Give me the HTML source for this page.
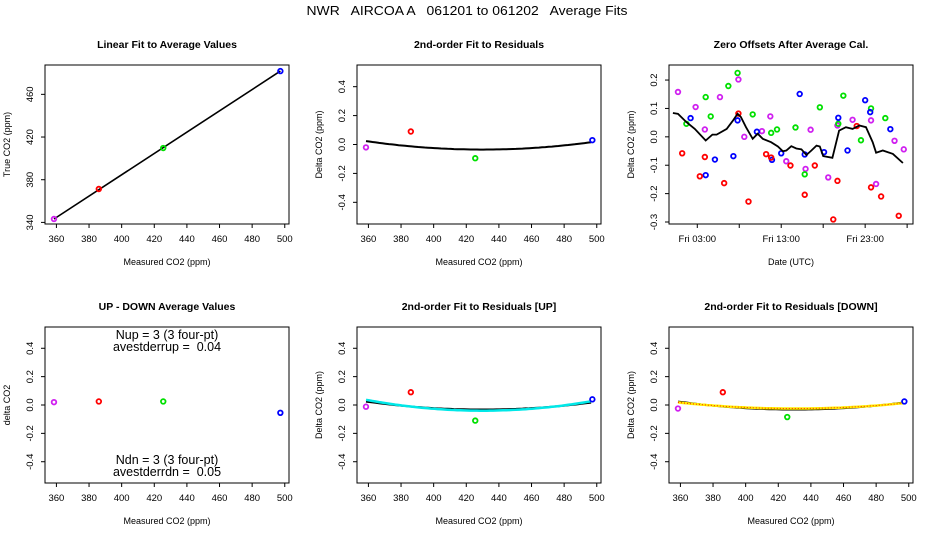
<!DOCTYPE html>
<html><head><meta charset="utf-8"><style>
body{margin:0;background:#fff}
svg{display:block;font-family:"Liberation Sans",Arial,sans-serif}
svg text{white-space:pre}
</style></head><body>
<svg id="chart" width="936" height="540" viewBox="0 0 936 540">
<rect width="936" height="540" fill="#fff"/>
<text x="467" y="15" font-size="13" text-anchor="middle" textLength="321" lengthAdjust="spacingAndGlyphs" style="white-space:pre">NWR   AIRCOA A   061201 to 061202   Average Fits</text>
</svg>
<script>
// ---- data ----
const stdNames = ['S1','S2','S3','S4'];
const stdColors = ['#d020f0','#ff0000','#00e000','#0000ff'];
const measured = [358.5, 386, 425.5, 497.3];
const trueVals = [343.2, 371.3, 409.7, 481.8];
const residAvg = [-0.02, 0.09, -0.095, 0.03];
const upDown = [0.02, 0.025, 0.025, -0.055];
const residUp = [-0.012, 0.09, -0.11, 0.04];
const residDown = [-0.025, 0.09, -0.085, 0.025];
// quadratic fits: [vertexX, vertexY, curvature]
const fitAvg = [430, -0.035, 1.15e-5];
const fitUpBlack = [430, -0.032, 1.1e-5];
const fitUpCyan = [430, -0.04, 1.5e-5];
const fitDownBlack = [430, -0.032, 1.1e-5];
const fitDownColor = [430, -0.025, 0.85e-5];
const xTicksCO2 = [360,380,400,420,440,460,480,500];
const yTicksTrue = [340,380,420,460];
const yTicksDelta = [-0.4,-0.2,0.0,0.2,0.4];
const yTicksZero = [-0.3,-0.2,-0.1,0.0,0.1,0.2];
// zero offsets: hours since Fri 00:00
const zeroPurpleH = [0.7,2.8,3.9,5.7,7.9,8.6,10.7,11.7,13.6,15.9,16.5,18.6,19.7,21.5,23.7,24.3,26.5,27.6];
const zeroPurpleV = [0.158,0.105,0.026,0.140,0.202,0.0,0.02,0.072,-0.086,-0.113,0.025,-0.143,0.04,0.06,0.058,-0.166,-0.014,-0.044];
const zeroGreenH = [1.7,4.0,4.6,6.7,7.8,9.6,11.8,12.5,14.7,15.8,17.6,19.8,20.4,22.5,23.7,25.4];
const zeroGreenV = [0.046,0.14,0.072,0.179,0.225,0.079,0.014,0.026,0.033,-0.132,0.104,0.046,0.145,-0.012,0.1,0.066];
const zeroBlueH = [2.2,4.0,5.1,7.3,7.8,10.1,11.9,13.0,15.2,15.8,18.1,19.8,20.9,23.0,23.6,26.0];
const zeroBlueV = [0.066,-0.135,-0.08,-0.068,0.058,0.018,-0.081,-0.058,0.151,-0.062,-0.054,0.067,-0.048,0.129,0.087,0.027];
const zeroRedH = [1.2,3.3,3.9,6.2,7.9,9.1,11.2,11.8,14.1,15.8,17.0,19.2,19.7,22.0,23.7,24.9,27.0];
const zeroRedV = [-0.058,-0.139,-0.071,-0.163,0.082,-0.228,-0.061,-0.073,-0.101,-0.204,-0.101,-0.291,-0.155,0.038,-0.178,-0.210,-0.278];
const lineH = [0.1,0.7,1.7,2.7,4.0,4.8,5.3,6.5,7.2,7.8,8.2,8.8,9.6,10.2,10.8,11.8,12.6,13.2,13.6,14.2,14.8,15.4,16.0,16.6,17.2,17.6,18.0,19.1,19.9,20.7,21.5,22.3,23.1,23.9,24.3,25.1,26.3,27.5];
const lineV = [0.084,0.081,0.052,0.028,-0.013,0.008,0.008,0.028,0.055,0.081,0.07,0.034,-0.007,0.011,-0.007,-0.019,-0.034,-0.051,-0.048,-0.033,-0.041,-0.044,-0.064,-0.048,-0.031,-0.034,-0.068,-0.074,0.022,0.034,0.028,0.04,0.034,-0.019,-0.056,-0.048,-0.06,-0.092];
const timeTicks = [3,8,13,18,23,28];
const timeLabels = ['Fri 03:00','','Fri 13:00','','Fri 23:00',''];

const svg = document.getElementById('chart');
const NS = 'http://www.w3.org/2000/svg';
function mk(tag, attrs, parent){
  const e = document.createElementNS(NS, tag);
  for (const k in attrs) e.setAttribute(k, attrs[k]);
  (parent||svg).appendChild(e);
  return e;
}
function panel(opt){
  const g = mk('g', {});
  
  
  const L=opt.x, T=opt.y, W=244, H=opt.h;
  const sx = v => L + (v-opt.xd[0])/(opt.xd[1]-opt.xd[0])*W;
  const sy = v => T + H - (v-opt.yd[0])/(opt.yd[1]-opt.yd[0])*H;
  const box = mk('rect', {x:L, y:T, width:W, height:H, fill:'none', stroke:'#000', 'stroke-width':1}, g);
  
  
  const t = mk('text', {x:L+W/2, y:T-17, 'font-size':10.5, 'font-weight':'bold', 'text-anchor':'middle'}, g);
  t.textContent = opt.title;
  
  
  const xt = opt.xt;
  mk('line', {x1:sx(xt[0]), x2:sx(xt[xt.length-1]), y1:T+H, y2:T+H, stroke:'#000'}, g);
  xt.forEach((v,i)=>{
    const px = sx(v);
    mk('line', {x1:px, x2:px, y1:T+H, y2:T+H+4, stroke:'#000'}, g);
    const lbl = opt.xl ? opt.xl[i] : String(v);
    if (lbl) {
      const tx = mk('text', {x:px, y:T+H+18, 'font-size':9.5, 'text-anchor':'middle'}, g);
      tx.textContent = lbl;
      
      
    }
  });
  const xa = mk('text', {x:L+W/2, y:T+H+41, 'font-size':9, 'text-anchor':'middle'}, g);
  xa.textContent = opt.xlab;
  
  
  const yt = opt.yt;
  mk('line', {x1:L, x2:L, y1:sy(yt[0]), y2:sy(yt[yt.length-1]), stroke:'#000'}, g);
  yt.forEach(v=>{
    const py = sy(v);
    mk('line', {x1:L-4, x2:L, y1:py, y2:py, stroke:'#000'}, g);
    const ty = mk('text', {x:0, y:0, 'font-size':9.5, 'text-anchor':'middle', transform:`translate(${L-12},${py}) rotate(-90)`}, g);
    ty.textContent = opt.yfmt(v);
    
    
  });
  const ya = mk('text', {x:0, y:0, 'font-size':9, 'text-anchor':'middle', transform:`translate(${L-35},${T+H/2}) rotate(-90)`}, g);
  ya.textContent = opt.ylab;
  
  
  return {g, sx, sy};
}
function pts(p, xs, ys, colors, name){
  xs.forEach((x,i)=>{
    const c = mk('circle', {cx:p.sx(x), cy:p.sy(ys[i]), r:2.3, fill:'none', stroke:Array.isArray(colors)?colors[i]:colors, 'stroke-width':1.8}, p.g);
    
    
  });
}
function curve(p, fit, stroke, w, dash, name){
  let d='';
  for (let x=358.5; x<=497.3; x+=2){
    const y = fit[1] + fit[2]*(x-fit[0])*(x-fit[0]);
    d += (d?'L':'M') + p.sx(x).toFixed(1) + ',' + p.sy(y).toFixed(1);
  }
  const e = mk('path', {d, fill:'none', stroke, 'stroke-width':w}, p.g);
  if (dash) e.setAttribute('stroke-dasharray', dash);
  
  
}
const XD = [353, 502.6];
const YD = [-0.55, 0.55];
const f1 = v => v.toFixed(1);
const fd = v => v.toFixed(1);

const p1 = panel({name:'linear-fit-panel', x:45, y:65, h:159, xd:XD, yd:[338.5,487.5], xt:xTicksCO2, yt:yTicksTrue, yfmt:v=>String(v), title:'Linear Fit to Average Values', xlab:'Measured CO2 (ppm)', ylab:'True CO2 (ppm)'});
{
  const l = mk('line', {x1:p1.sx(measured[0]), y1:p1.sy(trueVals[0]), x2:p1.sx(measured[3]), y2:p1.sy(trueVals[3]), stroke:'#000', 'stroke-width':1.6}, p1.g);
  
  
}
pts(p1, measured, trueVals, stdColors, 'standard-point');

const p2 = panel({name:'residual-fit-panel', x:357, y:65, h:159, xd:XD, yd:YD, xt:xTicksCO2, yt:yTicksDelta, yfmt:fd, title:'2nd-order Fit to Residuals', xlab:'Measured CO2 (ppm)', ylab:'Delta CO2 (ppm)'});
curve(p2, fitAvg, '#000', 2, null, 'fit-curve');
pts(p2, measured, residAvg, stdColors, 'residual-point');

const p3 = panel({name:'zero-offsets-panel', x:669, y:65, h:159, xd:[-0.37,28.7], yd:[-0.307,0.253], xt:timeTicks, xl:timeLabels, yt:yTicksZero, yfmt:f1, title:'Zero Offsets After Average Cal.', xlab:'Date (UTC)', ylab:'Delta CO2 (ppm)'});
pts(p3, zeroPurpleH, zeroPurpleV, stdColors[0], 'zero-point-s1');
pts(p3, zeroGreenH, zeroGreenV, stdColors[2], 'zero-point-s3');
pts(p3, zeroBlueH, zeroBlueV, stdColors[3], 'zero-point-s4');
pts(p3, zeroRedH, zeroRedV, stdColors[1], 'zero-point-s2');
{
  let d='';
  lineH.forEach((h,i)=>{ d += (i?'L':'M') + p3.sx(h).toFixed(1) + ',' + p3.sy(lineV[i]).toFixed(1); });
  const e = mk('path', {d, fill:'none', stroke:'#000', 'stroke-width':1.8}, p3.g);
  
  
}

const p4 = panel({name:'up-down-panel', x:45, y:327, h:156, xd:XD, yd:YD, xt:xTicksCO2, yt:yTicksDelta, yfmt:fd, title:'UP - DOWN Average Values', xlab:'Measured CO2 (ppm)', ylab:'delta CO2'});
pts(p4, measured, upDown, stdColors, 'up-down-point');
[['Nup = 3 (3 four-pt)',339,'n-up-text'],['avestderrup =  0.04',351,'stderr-up-text'],['Ndn = 3 (3 four-pt)',464,'n-down-text'],['avestderrdn =  0.05',476,'stderr-down-text']].forEach(a=>{
  const t = mk('text', {x:167, y:a[1], 'font-size':12.5, 'text-anchor':'middle'}, p4.g);
  t.textContent = a[0];
  
  
});

const p5 = panel({name:'residual-up-panel', x:357, y:327, h:156, xd:XD, yd:YD, xt:xTicksCO2, yt:yTicksDelta, yfmt:fd, title:'2nd-order Fit to Residuals [UP]', xlab:'Measured CO2 (ppm)', ylab:'Delta CO2 (ppm)'});
curve(p5, fitUpBlack, '#000', 2, null, 'fit-curve');
curve(p5, fitUpCyan, '#00e8e8', 2.5, null, 'up-fit-curve');
pts(p5, measured, residUp, stdColors, 'residual-point');

const p6 = panel({name:'residual-down-panel', x:669, y:327, h:156, xd:XD, yd:YD, xt:xTicksCO2, yt:yTicksDelta, yfmt:fd, title:'2nd-order Fit to Residuals [DOWN]', xlab:'Measured CO2 (ppm)', ylab:'Delta CO2 (ppm)'});
curve(p6, fitDownBlack, '#000', 2, null, 'fit-curve');
curve(p6, fitDownColor, '#ffee00', 2.5, null, 'down-fit-curve');
curve(p6, fitDownColor, '#ff2000', 1, '1,2', 'down-fit-curve-dots');
pts(p6, measured, residDown, stdColors, 'residual-point');
</script>
</body></html>
